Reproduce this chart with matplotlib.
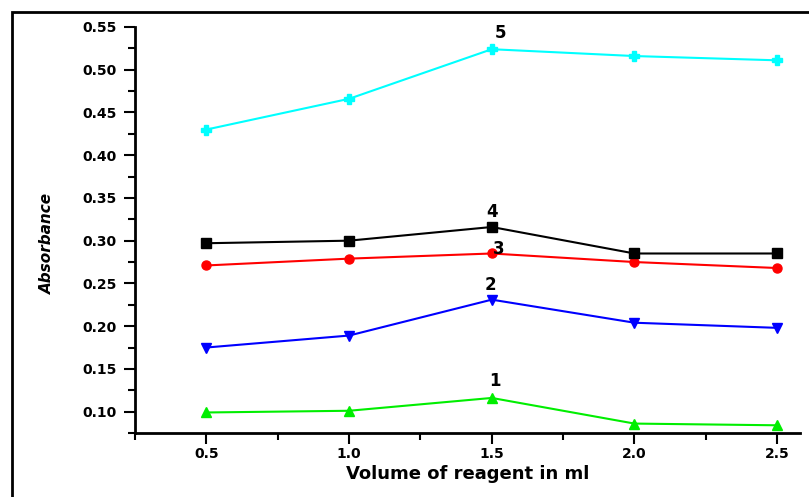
import numpy as np
import matplotlib.pyplot as plt
from matplotlib.patches import Rectangle

# Datos
volumen = [0.5, 1.0, 1.5, 2.0, 2.5]
serie_1 = [0.099, 0.101, 0.116, 0.086, 0.084]
serie_2 = [0.175, 0.189, 0.231, 0.204, 0.198]
serie_3 = [0.271, 0.279, 0.285, 0.275, 0.268]
serie_4 = [0.297, 0.300, 0.316, 0.285, 0.285]
serie_5 = [0.430, 0.466, 0.524, 0.516, 0.511]

etiquetas = ['1', '2', '3', '4', '5']
colores = ['#00ee00', '#0000ff', '#ff0000', '#000000', '#00ffff']
marcadores = ['^', 'v', 'o', 's', 'P']
y_ticks = [0.10, 0.15, 0.20, 0.25, 0.30, 0.35, 0.40, 0.45, 0.50, 0.55]
x_ticks = [0.5, 1.0, 1.5, 2.0, 2.5]

series = [serie_1, serie_2, serie_3, serie_4, serie_5]

fig = plt.figure(figsize=(8.09, 4.97), dpi=100)
ax = fig.add_axes([0.1669, 0.1288, 0.822, 0.8169])

for y, c, m in zip(series, colores, marcadores):
    ax.plot(volumen, y, color=c, marker=m, markersize=6.5, linewidth=1.5)

# Etiquetas numéricas sobre el punto 1.5
desplaz = [(2, 6), (-1, 4), (5, -3), (0, 4), (6, 5)]
for y, lab, d in zip(series, etiquetas, desplaz):
    ax.annotate(lab, (volumen[2], y[2]), xytext=d, textcoords='offset points',
                ha='center', va='bottom', fontsize=12, fontweight='bold')

ax.set_xlim(0.25, 2.58)
ax.set_ylim(0.0755, 0.55)
ax.set_xticks(x_ticks)
ax.set_xticklabels([f'{v:.1f}' for v in x_ticks])
ax.set_yticks(y_ticks)
ax.set_yticklabels([f'{v:.2f}' for v in y_ticks])
ax.set_xticks(np.arange(0.25, 2.6, 0.25), minor=True)
ax.set_yticks(np.arange(0.075, 0.551, 0.025), minor=True)
ax.tick_params(which='major', direction='out', length=8, width=1.5,
               labelsize=10, pad=5)
ax.tick_params(axis='x', which='major', pad=2)
ax.tick_params(which='minor', direction='out', length=5, width=1.5)
for lbl in ax.get_xticklabels() + ax.get_yticklabels():
    lbl.set_fontweight('bold')

for s in ['top', 'right']:
    ax.spines[s].set_visible(False)
for s in ['left', 'bottom']:
    ax.spines[s].set_linewidth(2)

ax.set_xlabel('Volume of reagent in ml', fontsize=13, fontweight='bold', labelpad=3)
fig.text(0.059, 0.51, 'Absorbance', rotation=90, fontsize=11, style='italic',
         fontweight='bold', ha='center', va='center')

# Marco exterior
fig.patches.append(Rectangle((12 / 809, -0.2), 1.2, 1.2 - 12 / 497,
                             transform=fig.transFigure, fill=False,
                             edgecolor='black', linewidth=2))

fig.savefig('out.png', dpi=100)
